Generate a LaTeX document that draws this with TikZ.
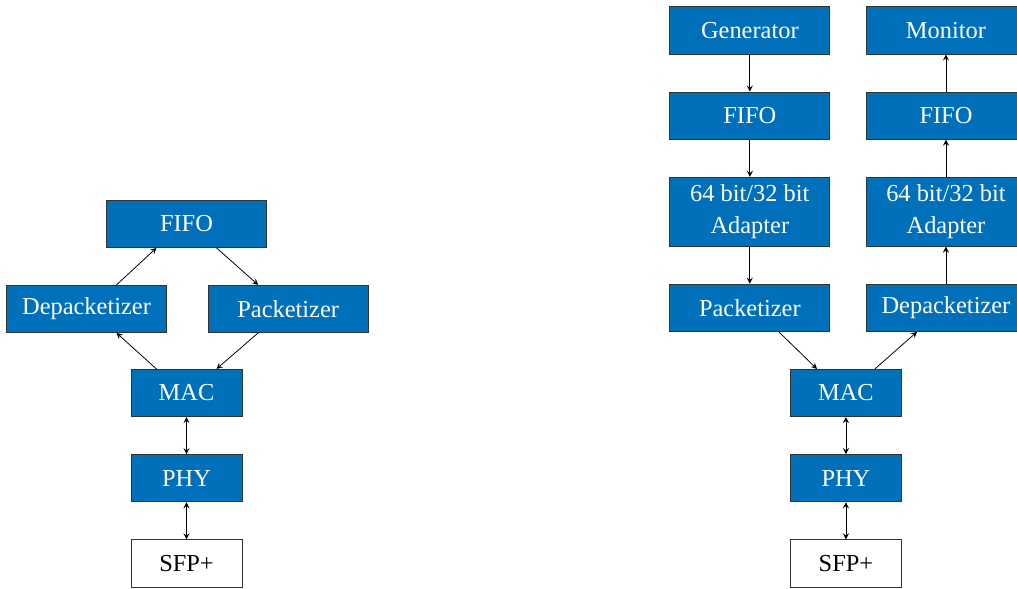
\documentclass[tikz,border=0pt]{standalone}
\usepackage{fontspec}
\setmainfont{Liberation Serif}
\usetikzlibrary{arrows,positioning,calc}
\usepackage{xcolor}
\definecolor{blkblue}{RGB}{0,112,186}

\begin{document}
\begin{tikzpicture}[node distance=0.67cm,>=stealth,
    blk/.style={draw=black!80,fill=blkblue,text=white,minimum width=2.88cm,minimum height=0.85cm,inner sep=2pt,align=center,font=\fontsize{12.5}{16}\selectfont},
    narrow/.style={minimum width=2.0cm}]
    \useasboundingbox (-3.357,-3.51) rectangle (14.949,7.074);
    % loopback
    \node[blk,narrow] (macA) at (0,0) {MAC};
    \node[blk,narrow,below=of macA] (phyA) {PHY};
    \node[blk,narrow,below=of phyA,fill=white,text=black] (sfpA) {SFP+};
    \node[blk,above=0.65cm of macA,xshift=-1.80cm] (depA) {Depacketizer};
    \node[blk,above=0.65cm of macA,xshift=1.83cm] (pakA) {Packetizer};
    \node[blk,above=2.18cm of macA] (fifoA) {FIFO};
    \draw[->] ([xshift=0.54cm]depA.north) -- ([xshift=-0.54cm]fifoA.south);
    \draw[->] ([xshift=0.54cm]fifoA.south) -- ([xshift=-0.54cm]pakA.north);
    \draw[->] ([xshift=-0.54cm]pakA.south) -- ([xshift=0.54cm]macA.north);
    \draw[->] ([xshift=-0.54cm]macA.north) -- ([xshift=0.54cm]depA.south);
    \draw[<->] (macA) -- (phyA);
    \draw[<->] (phyA) -- (sfpA);
    % generator / monitor
    \node[blk,narrow] (macB) at (11.87,0) {MAC};
    \node[blk,narrow,below=of macB] (phyB) {PHY};
    \node[blk,narrow,below=of phyB,fill=white,text=black] (sfpB) {SFP+};
    \node[blk,above=of macB,xshift=-1.73cm] (pakB) {Packetizer};
    \node[blk,above=of pakB,minimum height=1.24cm] (adTx) {64 bit/32 bit\\Adapter};
    \node[blk,above=of adTx] (fifoTx) {FIFO};
    \node[blk,above=of fifoTx] (gen) {Generator};
    \node[blk,above=of macB,xshift=1.80cm] (depB) {Depacketizer};
    \node[blk,above=of depB,minimum height=1.24cm] (adRx) {64 bit/32 bit\\Adapter};
    \node[blk,above=of adRx] (fifoRx) {FIFO};
    \node[blk,above=of fifoRx] (mon) {Monitor};
    \draw[->] (gen) -- (fifoTx);
    \draw[->] (fifoTx) -- (adTx);
    \draw[->] (adTx) -- (pakB);
    \draw[->] ([xshift=0.52cm]pakB.south) -- ([xshift=-0.52cm]macB.north);
    \draw[->] ([xshift=0.52cm]macB.north) -- ([xshift=-0.52cm]depB.south);
    \draw[->] (depB) -- (adRx);
    \draw[->] (adRx) -- (fifoRx);
    \draw[->] (fifoRx) -- (mon);
    \draw[<->] (macB) -- (phyB);
    \draw[<->] (phyB) -- (sfpB);
  \end{tikzpicture}
\end{document}
